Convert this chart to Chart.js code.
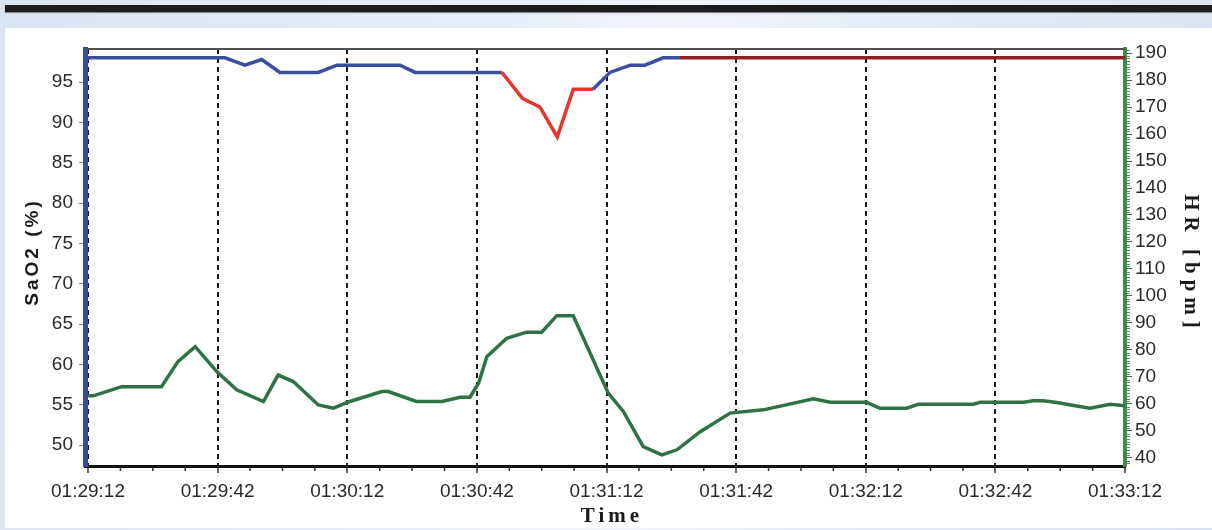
<!DOCTYPE html>
<html>
<head>
<meta charset="utf-8">
<script src="https://cdn.jsdelivr.net/npm/chart.js"></script>
<style>
  body {
    margin: 0; width: 1212px; height: 530px; overflow: hidden; position: relative;
    background: linear-gradient(100deg, #dbe4f1 0%, #e8eef7 40%, #f2f5fa 52%, #e4ebf5 70%, #dae3f0 100%);
  }
  #bar { position: absolute; left: 5px; right: 0; top: 5px; height: 7px; background: #1d1d20; box-shadow: 0 1px 1px #8a8a8a; }
  #panel { position: absolute; left: 5px; right: 0; top: 28px; bottom: 2px; background: #fff; }
  #myChart { position: absolute; left: 0; top: 0; }
</style>
</head>
<body>
<div id="bar"></div>
<div id="panel"></div>
<canvas id="myChart" width="1212" height="530"></canvas>
<script>
// tiempo en segundos desde 01:29:12
const TIME_LABELS = ['01:29:12', '01:29:42', '01:30:12', '01:30:42', '01:31:12', '01:31:42', '01:32:12', '01:32:42', '01:33:12'];
const SAO2_TICKS = [50, 55, 60, 65, 70, 75, 80, 85, 90, 95];
const HR_TICKS = [40, 50, 60, 70, 80, 90, 100, 110, 120, 130, 140, 150, 160, 170, 180, 190];

const SAO2_T = [0, 31.7, 36.3, 40.2, 44.4, 53.3, 57.6, 72.2, 75.7, 95.8, 100.5, 104.6, 108.6, 112.3, 116.9, 120.8, 125.5, 128.9, 133.1, 137, 240];
const SAO2 = [98, 98, 97.1, 97.8, 96.2, 96.2, 97.1, 97.1, 96.2, 96.2, 93, 91.9, 88.2, 94.1, 94.1, 96.2, 97.1, 97.1, 98, 98, 98];

const HR_T = [0, 1.2, 7.8, 17, 20.8, 24.8, 29.8, 34.4, 40.6, 44, 47.5, 53.3, 56.8, 60.6, 68, 69.5, 76, 81.9, 86.1, 88.4, 90.4, 92.3, 96.9, 101.5, 105, 108.5, 112.3, 120.4, 123.9, 128.5, 132.8, 136.3, 141.7, 148.6, 156.3, 167.9, 171.8, 180.2, 183.3, 189.5, 192.2, 204.9, 206.5, 216.5, 218.8, 221.1, 224.2, 228.1, 231.9, 236.6, 240];
const HR = [63, 63, 66.4, 66.4, 75.7, 81.2, 72, 65.2, 60.9, 70.7, 68.3, 59.6, 58.4, 60.9, 64.6, 64.6, 60.9, 60.9, 62.5, 62.5, 67.7, 77.5, 84.3, 86.6, 86.6, 92.7, 92.7, 64, 57.2, 44.2, 41.1, 43, 49.7, 56.6, 57.8, 61.9, 60.6, 60.6, 58.4, 58.4, 59.9, 59.9, 60.6, 60.6, 61.2, 61.2, 60.5, 59.4, 58.4, 59.9, 59.3];

// tramos de alarma de la saturacion
const ALARM_FROM = 95.8;
const ALARM_TO = 116.9;
const TAIL_FROM = 137;

const BLUE = '#3c4d9e';
const RED = '#e5372c';
const DARK_RED = '#8c1f24';
const GREEN = '#2e7346';
const TICK_FONT = { family: '"Liberation Sans", Arial, sans-serif', size: 19 };

const saoColor = (c) => {
    const x0 = c.p0.parsed.x;
    const x1 = c.p1.parsed.x;
    if (x0 >= ALARM_FROM && x1 <= ALARM_TO) return RED;
    if (x0 >= TAIL_FROM) return DARK_RED;
    return BLUE;
};

const extras = {
    id: 'extras',
    afterDraw(chart) {
        const { ctx, chartArea: a, scales } = chart;
        ctx.save();
        // borde superior
        ctx.strokeStyle = '#505050';
        ctx.lineWidth = 2;
        ctx.beginPath();
        ctx.moveTo(a.left, a.top);
        ctx.lineTo(a.right, a.top);
        ctx.stroke();
        // ticks menores del eje de tiempo
        ctx.strokeStyle = '#333';
        ctx.lineWidth = 1.5;
        for (let t = 7.5; t < 240; t += 7.5) {
            if (t % 30 === 0) continue;
            const px = scales.x.getPixelForValue(t);
            ctx.beginPath();
            ctx.moveTo(px, a.bottom + 1);
            ctx.lineTo(px, a.bottom + 5);
            ctx.stroke();
        }
        // ticks menores del eje HR
        ctx.strokeStyle = '#4f9c62';
        ctx.lineWidth = 1;
        for (let v = 38; v <= 191; v++) {
            if (v % 10 === 0) continue;
            const py = Math.round(scales.y1.getPixelForValue(v)) + 0.5;
            ctx.beginPath();
            ctx.moveTo(a.right + 2, py);
            ctx.lineTo(a.right + 5, py);
            ctx.stroke();
        }
        // titulos de ejes
        ctx.fillStyle = '#1a1a1a';
        ctx.textAlign = 'center';
        ctx.textBaseline = 'middle';

        ctx.save();
        ctx.translate(33, 252);
        ctx.rotate(-Math.PI / 2);
        ctx.font = 'bold 19px "Liberation Sans", Arial, sans-serif';
        ctx.letterSpacing = '3px';
        ctx.fillText('SaO2 (%)', 0, 0);
        ctx.restore();

        ctx.save();
        ctx.translate(1190, 264);
        ctx.rotate(Math.PI / 2);
        ctx.font = 'bold 21px "Liberation Serif", "Times New Roman", serif';
        ctx.letterSpacing = '6px';
        ctx.fillText('HR [bpm]', 0, 0);
        ctx.restore();

        ctx.font = 'bold 21px "Liberation Serif", "Times New Roman", serif';
        ctx.letterSpacing = '4px';
        ctx.fillText('Time', 612, 517);
        ctx.restore();
    }
};

const chart = document.getElementById('myChart');

new Chart(chart, {
    type: 'line',
    data: {
        datasets: [{
            label: 'SaO2',
            data: SAO2_T.map((t, i) => ({ x: t, y: SAO2[i] })),
            yAxisID: 'y',
            borderColor: BLUE,
            borderWidth: 3.5,
            pointRadius: 0,
            segment: { borderColor: saoColor }
        }, {
            label: 'HR',
            data: HR_T.map((t, i) => ({ x: t, y: HR[i] })),
            yAxisID: 'y1',
            borderColor: GREEN,
            borderWidth: 3.5,
            pointRadius: 0
        }]
    },
    options: {
        responsive: false,
        animation: false,
        layout: { padding: { top: 49, left: 0, right: 0, bottom: 0 } },
        plugins: { legend: { display: false }, tooltip: { enabled: false } },
        scales: {
            x: {
                type: 'linear',
                min: -0.7,
                max: 240,
                afterBuildTicks: (s) => { s.ticks = TIME_LABELS.map((l, i) => ({ value: i * 30 })); },
                afterFit: (s) => { s.height = 64; },
                ticks: {
                    callback: (v) => TIME_LABELS[Math.round(v / 30)],
                    color: '#2a2a2a',
                    font: TICK_FONT,
                    padding: 7,
                    maxRotation: 0,
                    autoSkip: false
                },
                grid: {
                    color: (c) => (c.tick && c.tick.value >= 240) ? 'rgba(0,0,0,0)' : '#1a1a1a',
                    lineWidth: 2,
                    tickColor: '#333',
                    tickLength: 7,
                    tickWidth: 1.5
                },
                border: { color: '#111', width: 3, dash: [5, 4] }
            },
            y: {
                position: 'left',
                min: 47.4,
                max: 99.1,
                afterBuildTicks: (s) => { s.ticks = SAO2_TICKS.map((v) => ({ value: v })); },
                afterFit: (s) => { s.width = 85; },
                ticks: { color: '#2a2a2a', font: TICK_FONT, padding: 6 },
                grid: { drawOnChartArea: false, tickColor: '#888', tickLength: 6 },
                border: { color: '#3a4a9c', width: 5 }
            },
            y1: {
                position: 'right',
                min: 37,
                max: 191.5,
                afterBuildTicks: (s) => { s.ticks = HR_TICKS.map((v) => ({ value: v })); },
                afterFit: (s) => { s.width = 87; },
                ticks: { color: '#2a2a2a', font: TICK_FONT, padding: 3 },
                grid: { drawOnChartArea: false, tickColor: '#555', tickLength: 7 },
                border: { color: '#3f8a52', width: 4 }
            }
        }
    },
    plugins: [extras]
});
</script>
</body>
</html>
